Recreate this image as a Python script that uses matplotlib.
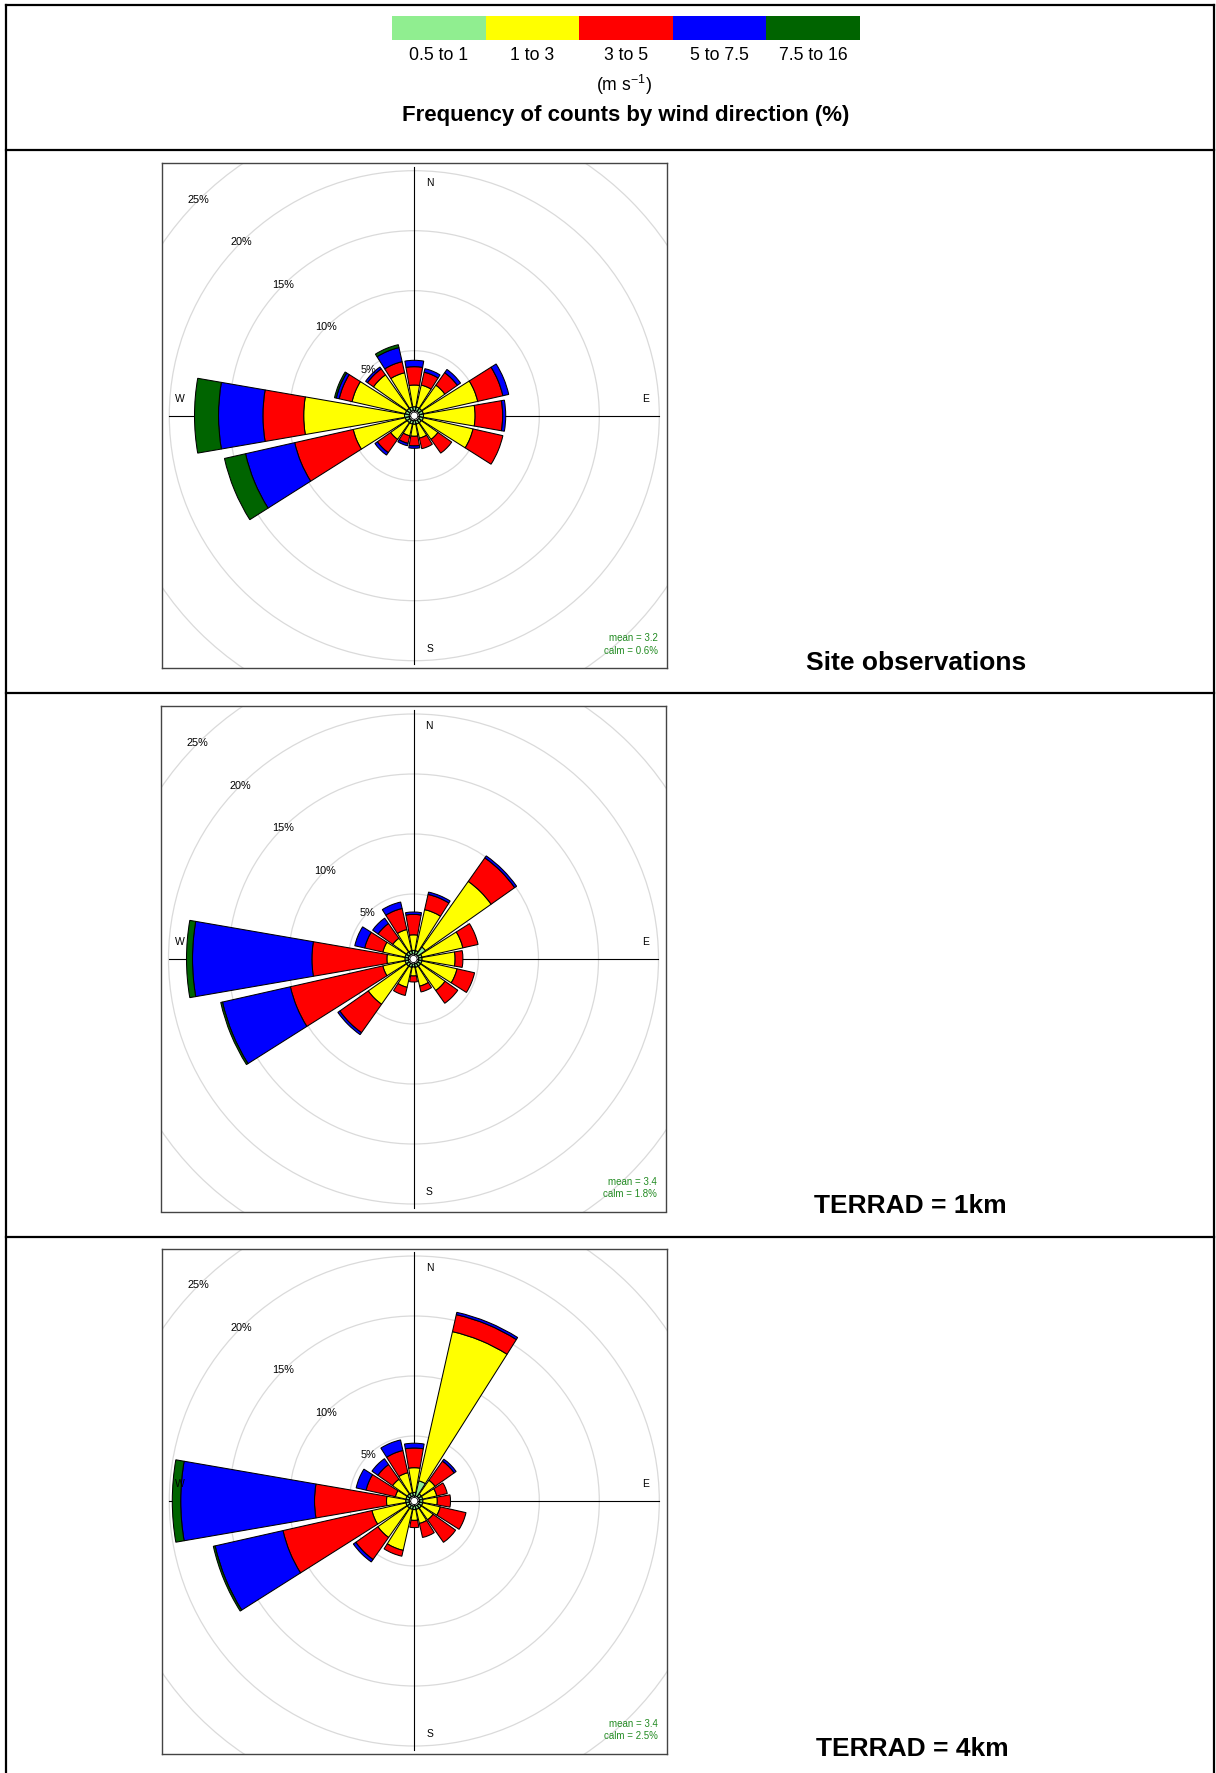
import numpy as np
import matplotlib.pyplot as plt
from matplotlib.patches import Wedge, Circle, Rectangle

plt.rcParams['font.family'] = ['Liberation Sans', 'DejaVu Sans']
plt.rcParams['mathtext.fontset'] = 'custom'
plt.rcParams['mathtext.rm'] = 'Liberation Sans'

# direction sectors (bearing, degrees from north)
directions = ["N", "NNE", "NE", "ENE", "E", "ESE", "SE", "SSE",
              "S", "SSW", "SW", "WSW", "W", "WNW", "NW", "NNW"]
bearings = np.arange(16) * 22.5

speed_bins = ["0.5 to 1", "1 to 3", "3 to 5", "5 to 7.5", "7.5 to 16"]
bin_colors = ["#90EE90", "#FFFF00", "#FF0000", "#0000FF", "#006400"]

# frequency (%) per speed bin, in the order of directions
# --- site observations
site_05_1 = [0.33, 0.33, 0.33, 0.35, 0.35, 0.35, 0.3, 0.3, 0.3, 0.3, 0.3, 0.35, 0.4, 0.35, 0.33, 0.33]
site_1_3 = [1.81, 1.87, 2.37, 4.65, 4.3, 4.25, 1.7, 1.2, 1.0, 1.0, 1.7, 4.45, 8.4, 4.55, 3.42, 2.92]
site_3_5 = [1.53, 1.1, 1.27, 2.15, 2.3, 2.55, 1.4, 0.9, 0.8, 0.65, 1.35, 5.0, 3.4, 1.1, 0.61, 0.95]
site_5_75 = [0.53, 0.3, 0.33, 0.5, 0.25, 0.0, 0.0, 0.0, 0.2, 0.2, 0.25, 4.2, 3.7, 0.25, 0.19, 1.2]
site_75_16 = [0.0, 0.0, 0.0, 0.0, 0.0, 0.0, 0.0, 0.0, 0.0, 0.0, 0.0, 1.8, 2.0, 0.15, 0.0, 0.25]

# --- TERRAD = 1km
t1_05_1 = [0.3, 0.3, 0.8, 0.3, 0.3, 0.3, 0.3, 0.3, 0.25, 0.3, 0.3, 0.3, 0.3, 0.3, 0.3, 0.3]
t1_1_3 = [1.3, 3.5, 6.7, 3.5, 2.75, 3.0, 2.5, 1.6, 0.75, 1.7, 3.9, 1.9, 1.5, 1.9, 1.4, 1.8]
t1_3_5 = [1.7, 1.3, 2.4, 1.3, 0.65, 1.5, 1.3, 0.5, 0.5, 0.7, 2.9, 7.9, 6.25, 1.55, 1.5, 1.8]
t1_5_75 = [0.2, 0.2, 0.2, 0.0, 0.0, 0.0, 0.0, 0.0, 0.0, 0.0, 0.2, 5.8, 9.95, 0.85, 0.55, 0.55]
t1_75_16 = [0.0, 0.0, 0.0, 0.0, 0.0, 0.0, 0.0, 0.0, 0.0, 0.0, 0.0, 0.15, 0.5, 0.0, 0.0, 0.0]

# --- TERRAD = 4km
t4_05_1 = [0.3, 1.3, 0.3, 0.3, 0.3, 0.3, 0.3, 0.3, 0.3, 0.3, 0.3, 0.3, 0.3, 0.3, 0.3, 0.3]
t4_1_3 = [2.06, 12.75, 1.4, 1.2, 1.2, 1.5, 1.2, 1.2, 0.9, 3.5, 3.0, 2.9, 1.6, 0.9, 1.5, 1.7]
t4_3_5 = [1.64, 1.45, 1.95, 0.9, 1.1, 2.2, 2.3, 1.2, 0.6, 0.5, 2.25, 7.6, 6.0, 2.5, 1.5, 1.9]
t4_5_75 = [0.4, 0.2, 0.2, 0.0, 0.0, 0.0, 0.0, 0.0, 0.0, 0.0, 0.25, 5.8, 11.15, 0.85, 0.6, 0.9]
t4_75_16 = [0.0, 0.0, 0.0, 0.0, 0.0, 0.0, 0.0, 0.0, 0.0, 0.0, 0.0, 0.15, 0.7, 0.0, 0.0, 0.0]

panel_titles = ["Site observations", "TERRAD = 1km", "TERRAD = 4km"]
panel_means = ["3.2", "3.4", "3.4"]
panel_calms = ["0.6%", "1.8%", "2.5%"]
rings = [5, 10, 15, 20, 25]

panels = [
    [site_05_1, site_1_3, site_3_5, site_5_75, site_75_16],
    [t1_05_1, t1_1_3, t1_3_5, t1_5_75, t1_75_16],
    [t4_05_1, t4_1_3, t4_3_5, t4_5_75, t4_75_16],
]

W, H = 1216, 1773
fig = plt.figure(figsize=(W / 100, H / 100), dpi=100)

# background axes in pixel units for table lines and text
bg = fig.add_axes([0, 0, 1, 1])
bg.set_xlim(0, W)
bg.set_ylim(H, 0)
bg.axis("off")

lw_tab = 1.6
bg.plot([6, 1214], [5, 5], color="black", lw=lw_tab)
bg.plot([6, 6], [5, H], color="black", lw=lw_tab)
bg.plot([1214, 1214], [5, H], color="black", lw=lw_tab)
for yy in [150, 693, 1237]:
    bg.plot([6, 1214], [yy, yy], color="black", lw=lw_tab)

# legend key
x0, x1 = 392, 860
seg = (x1 - x0) / len(bin_colors)
for i, (c, lab) in enumerate(zip(bin_colors, speed_bins)):
    bg.add_patch(Rectangle((x0 + i * seg, 16), seg, 24, facecolor=c, edgecolor="none"))
    bg.text(x0 + (i + 0.5) * seg, 56, lab, ha="center", va="center", fontsize=12.7)
bg.text(624, 85, r"(m s$^{-1}$)", ha="center", va="center", fontsize=12.7)
bg.text(626, 116, "Frequency of counts by wind direction (%)", ha="center", va="center",
        fontsize=16, fontweight="bold")

centers = [(414.3, 415.7), (413.5, 959), (414.3, 1501)]
title_pos = [(916, 663), (910, 1206), (912, 1749)]
half = 252.5
scale = 12.0  # pixels per percent
hole = 5 / scale
lim = half / scale

for k, (cx, cy) in enumerate(centers):
    ax = fig.add_axes([(cx - half) / W, 1 - (cy + half) / H, 2 * half / W, 2 * half / H])
    ax.set_xlim(-lim, lim)
    ax.set_ylim(-lim, lim)
    ax.set_xticks([])
    ax.set_yticks([])
    for s in ax.spines.values():
        s.set_color("#444444")
        s.set_linewidth(1.0)

    for r in rings:
        ax.add_patch(Circle((0, 0), hole + r, fill=False, edgecolor="#DADADA", lw=0.9, zorder=1))
    ax.plot([0, 0], [-lim * 0.985, lim * 0.985], color="black", lw=0.8, zorder=2)
    ax.plot([-lim * 0.97, lim * 0.97], [0, 0], color="black", lw=0.8, zorder=2)

    data = np.array(panels[k])
    cum = np.cumsum(data, axis=0)
    for j, b in enumerate(bearings):
        theta = 90 - b
        inner = 0.0
        for i in range(len(speed_bins)):
            outer = cum[i, j]
            if outer - inner > 1e-6:
                ax.add_patch(Wedge((0, 0), hole + outer, theta - 9.8, theta + 9.8,
                                   width=outer - inner, facecolor=bin_colors[i],
                                   edgecolor="black", lw=0.75, zorder=3))
            inner = outer
    ax.add_patch(Circle((0, 0), 0.3, facecolor="white", edgecolor="black", lw=0.6, zorder=4))

    for r in rings:
        rr = hole + r
        ax.text(-rr * 0.707, rr * 0.707, f"{r}%", ha="center", va="center", fontsize=7.8, zorder=5)
    ax.text(1.3, 19.4, "N", ha="center", va="center", fontsize=7.5)
    ax.text(1.3, -19.4, "S", ha="center", va="center", fontsize=7.5)
    ax.text(19.3, 1.4, "E", ha="center", va="center", fontsize=7.5)
    ax.text(-19.5, 1.4, "W", ha="center", va="center", fontsize=7.5)
    ax.text(20.3, -18.55, f"mean = {panel_means[k]}", ha="right", va="center",
            fontsize=7, color="#228B22")
    ax.text(20.3, -19.6, f"calm = {panel_calms[k]}", ha="right", va="center",
            fontsize=7, color="#228B22")

    tx, ty = title_pos[k]
    bg.text(tx, ty, panel_titles[k], ha="center", va="center", fontsize=19, fontweight="bold")

fig.savefig("out.png", dpi=100)
